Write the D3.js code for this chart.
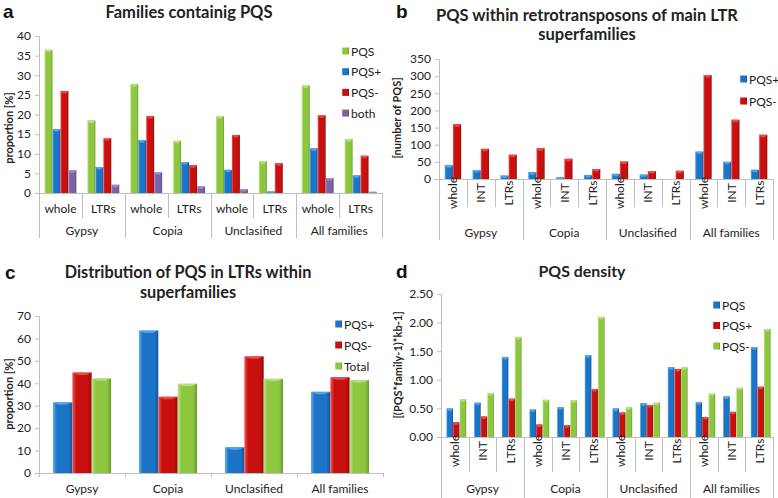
<!DOCTYPE html>
<html><head><meta charset="utf-8">
<script src="https://cdn.jsdelivr.net/npm/d3@7"></script>
<style>
body{margin:0;background:#fff;}
svg{display:block;font-family:Lato,"Open Sans",sans-serif;}
</style></head>
<body>
<svg id="c" width="778" height="498"></svg>
<script>
// ---------- DATA ----------
const groups = ["Gypsy","Copia","Unclasified","All families"];

// Panel a
const subsA = ["whole","LTRs"];
const seriesA = ["PQS","PQS+","PQS-","both"];
const aPQS     = [36.5,18.5,27.8,13.3,19.6,8.1,27.4,13.7];
const aPQSplus = [16.3,6.6,13.5,7.9,5.9,0.4,11.4,4.5];
const aPQSminus= [26.0,14.0,19.6,7.1,14.8,7.6,19.8,9.5];
const aBoth    = [5.8,2.1,5.3,1.7,1.0,0.0,3.8,0.3];
const ticksA = [0,5,10,15,20,25,30,35,40];

// Panel b
const subsB = ["whole","INT","LTRs"];
const seriesB = ["PQS+","PQS-"];
const bPQSplus = [40,26,10,20,5,12,15,13,0,80,50,27];
const bPQSminus= [160,88,71,90,59,29,51,23,24,303,173,129];
const ticksB = [0,50,100,150,200,250,300,350];

// Panel c
const seriesC = ["PQS+","PQS-","Total"];
const cPQSplus = [31.5,63.5,11.5,36.2];
const cPQSminus= [44.8,34.0,52.0,42.7];
const cTotal   = [42.2,39.8,42.0,41.5];
const ticksC = [0,10,20,30,40,50,60,70];

// Panel d
const subsD = ["whole","INT","LTRs"];
const seriesD = ["PQS","PQS+","PQS-"];
const dPQS     = [0.50,0.60,1.40,0.48,0.52,1.43,0.50,0.59,1.22,0.61,0.71,1.57];
const dPQSplus = [0.26,0.36,0.67,0.22,0.21,0.84,0.43,0.56,1.19,0.35,0.44,0.88];
const dPQSminus= [0.66,0.77,1.75,0.65,0.64,2.10,0.52,0.60,1.22,0.76,0.86,1.89];
const ticksD = [0,0.5,1,1.5,2,2.5];

// ---------- STYLE ----------
const COL = {
  green: {base:"#8dc63f", light:"#bfe589", dark:"#6b9a2c"},
  blue:  {base:"#1b74c6", light:"#62aef0", dark:"#12559a"},
  red:   {base:"#c8100f", light:"#ee5a5a", dark:"#8e0b0b"},
  purple:{base:"#7b62a2", light:"#ab95cc", dark:"#5a4680"}
};
const svg = d3.select("#c");
const defs = svg.append("defs");
Object.entries(COL).forEach(([k,c])=>{
  const g = defs.append("linearGradient").attr("id","g-"+k).attr("x1","0").attr("x2","1").attr("y1","0").attr("y2","0");
  g.append("stop").attr("offset","0").attr("stop-color",c.light);
  g.append("stop").attr("offset","0.2").attr("stop-color",c.base);
  g.append("stop").attr("offset","0.8").attr("stop-color",c.base);
  g.append("stop").attr("offset","1").attr("stop-color",c.dark);
});
const AXIS = "#bfbfbf", TXT = "#222";

function panel(o){
  const g = svg.append("g");
  const y = d3.scaleLinear().domain(o.domain).range([o.y0,o.y1]);
  const cats = [];
  o.groups.forEach(gr=>o.subs.forEach(s=>cats.push(gr+"|"+s)));
  const x = d3.scaleBand().domain(cats).range([o.x0,o.x1]).paddingInner(0).paddingOuter(0);
  const sh = o.shift||0;
  const xs = d3.scaleBand().domain(o.series.map(s=>s.name)).range([sh,x.bandwidth()+sh]).paddingInner(0).paddingOuter(o.pad);

  // y axis
  const ya = g.append("g").attr("transform",`translate(${o.x0},0)`)
    .call(d3.axisLeft(y).tickValues(o.ticks).tickSize(4).tickPadding(4).tickFormat(o.fmt||d3.format("d")));
  ya.select(".domain").attr("stroke",AXIS);
  ya.selectAll(".tick line").attr("stroke",AXIS);
  ya.selectAll(".tick text").attr("fill",TXT).style("font-size","12px").style("font-family","Lato");

  // bars
  o.series.forEach(s=>{
    g.append("g").selectAll("rect").data(s.values).join("rect")
      .attr("x",(d,i)=>x(cats[i])+xs(s.name))
      .attr("width",xs.bandwidth())
      .attr("y",d=>y(d))
      .attr("height",d=>y(0)-y(d))
      .attr("fill",`url(#g-${s.color})`);
    g.append("g").selectAll("path").data(s.values).join("path")
      .attr("d",(d,i)=>{
        if(d<=0) return null;
        const bx = x(cats[i])+xs(s.name), w = xs.bandwidth(), t = y(d);
        return `M${bx},${t}L${bx+w},${t}L${bx+w*0.7},${t+2.5}L${bx+w*0.3},${t+2.5}Z`;
      })
      .attr("fill",COL[s.color].light).attr("opacity",0.8);
  });

  // x axis line
  g.append("line").attr("x1",o.x0).attr("x2",o.x1).attr("y1",o.y0+0.5).attr("y2",o.y0+0.5).attr("stroke",AXIS);

  const gw = x.bandwidth()*o.subs.length;
  if(o.subs.length>1){
    cats.forEach((c,i)=>{
      const xx = Math.round(x(c))+0.5;
      const isGroup = i%o.subs.length===0;
      g.append("line").attr("x1",xx).attr("x2",xx).attr("y1",o.y0).attr("y2",isGroup?o.gBottom:o.sBottom).attr("stroke",AXIS);
    });
    g.append("line").attr("x1",Math.round(o.x1)+0.5).attr("x2",Math.round(o.x1)+0.5).attr("y1",o.y0).attr("y2",o.gBottom).attr("stroke",AXIS);
    cats.forEach(c=>{
      const cx = x(c)+x.bandwidth()/2, cy = o.y0+o.subOff;
      const t = g.append("text").text(c.split("|")[1]).attr("fill",TXT)
        .style("font-size","12px").attr("text-anchor","middle").attr("dominant-baseline","central");
      if(o.rotate) t.attr("transform",`translate(${cx},${cy}) rotate(-90)`);
      else t.attr("x",cx).attr("y",cy);
    });
  } else {
    cats.forEach((c,i)=>{
      const xx = Math.round(x(c))+0.5;
      g.append("line").attr("x1",xx).attr("x2",xx).attr("y1",o.y0).attr("y2",o.y0+4).attr("stroke",AXIS);
    });
    g.append("line").attr("x1",Math.round(o.x1)+0.5).attr("x2",Math.round(o.x1)+0.5).attr("y1",o.y0).attr("y2",o.y0+4).attr("stroke",AXIS);
  }
  o.groups.forEach((gr,i)=>{
    g.append("text").text(gr).attr("x",o.x0+gw*(i+0.5)).attr("y",o.y0+o.grpOff)
      .attr("fill",TXT).style("font-size","12px").attr("text-anchor","middle").attr("dominant-baseline","central");
  });

  g.append("text").text(o.ylabel).attr("transform",`translate(${o.ylx},${o.yly}) rotate(-90)`)
    .attr("text-anchor","middle").attr("dominant-baseline","central")
    .style("font-size","11px").style("font-weight","bold").attr("fill",TXT);

  // titles, sized to the reference width of the first line
  const tnodes = o.title.map((t,i)=>g.append("text").text(t).attr("x",o.tx).attr("y",o.ty+i*o.tdy)
      .attr("text-anchor","middle").attr("dominant-baseline","central")
      .style("font-size","16px").style("font-weight","bold").attr("fill",TXT));
  const len = tnodes[0].node().getComputedTextLength();
  const fs = 16*o.tw/len;
  tnodes.forEach(n=>n.style("font-size",fs+"px"));

  g.append("text").text(o.letter).attr("x",o.lx).attr("y",o.ly).attr("dominant-baseline","central")
    .style("font-family","'Liberation Sans',Arial,sans-serif").style("font-size","19px").style("font-weight","bold").attr("fill","#111");

  o.series.forEach((s,i)=>{
    const ly = o.legY + i*o.legDy;
    g.append("rect").attr("x",o.legX).attr("y",ly-3.5).attr("width",7).attr("height",7).attr("fill",`url(#g-${s.color})`);
    g.append("text").text(s.name).attr("x",o.legX+9).attr("y",ly).attr("dominant-baseline","central")
      .style("font-size","12px").attr("fill",TXT);
  });
}

panel({
  groups, subs:subsA, domain:[0,40], ticks:ticksA, x0:39, x1:382, y0:193, y1:36, pad:0.69,
  series:[{name:seriesA[0],values:aPQS,color:"green"},{name:seriesA[1],values:aPQSplus,color:"blue"},
          {name:seriesA[2],values:aPQSminus,color:"red"},{name:seriesA[3],values:aBoth,color:"purple"}],
  sBottom:218, gBottom:238, subOff:15, grpOff:37, rotate:false,
  ylabel:"proportion [%]", ylx:8, yly:128,
  title:["Families containig PQS"], tx:189, ty:12, tdy:0, tw:167, letter:"a", lx:3, ly:11,
  legX:342, legY:51, legDy:20.7
});

panel({
  groups, subs:subsB, domain:[0,350], ticks:ticksB, x0:439, x1:773, y0:179, y1:59, pad:0.69,
  series:[{name:seriesB[0],values:bPQSplus,color:"blue"},{name:seriesB[1],values:bPQSminus,color:"red"}],
  sBottom:207, gBottom:240, subOff:14, grpOff:53, rotate:true,
  ylabel:"[number of PQS]", ylx:396, yly:118,
  title:["PQS within retrotransposons of main LTR","superfamilies"], tx:587, ty:15, tdy:19, tw:302, letter:"b", lx:396, ly:11,
  legX:740, legY:79, legDy:22
});

panel({
  groups, subs:["LTRs"], domain:[0,70], ticks:ticksC, x0:39, x1:383, y0:473, y1:316, pad:0.72,
  series:[{name:seriesC[0],values:cPQSplus,color:"blue"},{name:seriesC[1],values:cPQSminus,color:"red"},
          {name:seriesC[2],values:cTotal,color:"green"}],
  grpOff:15, rotate:false,
  ylabel:"proportion [%]", ylx:8, yly:394,
  title:["Distribution of PQS in LTRs within","superfamilies"], tx:188, ty:271, tdy:20, tw:247, letter:"c", lx:5, ly:272,
  legX:335, legY:324, legDy:21
});

panel({
  groups, subs:subsD, domain:[0,2.5], ticks:ticksD, x0:441, x1:773, y0:437, y1:294, pad:0.6, shift:1.5, fmt:d3.format(".2f"),
  series:[{name:seriesD[0],values:dPQS,color:"blue"},{name:seriesD[1],values:dPQSplus,color:"red"},
          {name:seriesD[2],values:dPQSminus,color:"green"}],
  sBottom:472, gBottom:498, subOff:14, grpOff:51, rotate:true,
  ylabel:"[(PQS*family-1)*kb-1]", ylx:397, yly:365,
  title:["PQS density"], tx:582, ty:270, tdy:0, tw:87, letter:"d", lx:396, ly:271,
  legX:713, legY:305, legDy:20.5
});
</script>
</body></html>
